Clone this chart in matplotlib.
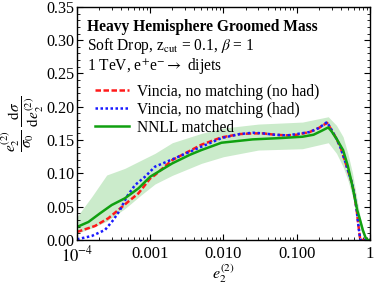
import numpy as np
import matplotlib
matplotlib.use("Agg")
import matplotlib.pyplot as plt
from matplotlib.ticker import MultipleLocator, LogLocator, NullFormatter

plt.rcParams['font.family'] = ['Liberation Serif', 'DejaVu Serif']
plt.rcParams['mathtext.fontset'] = 'stix'

# NNLL matched (central curve)
x_nnll = [1e-4, 1.43e-4, 2.06e-4, 2.98e-4, 4.5e-4, 6.9e-4, 1e-3, 2e-3, 3.5e-3, 5e-3,
          9.4e-3, 0.025, 0.06, 0.12, 0.17, 0.22, 0.27, 0.3, 0.35, 0.43, 0.5, 0.58,
          0.67, 0.73, 0.8, 0.87, 0.92, 1.0]
y_nnll = [0.0195, 0.027, 0.040, 0.0525, 0.0625, 0.0775, 0.095, 0.115, 0.128, 0.135,
          0.146, 0.151, 0.153, 0.155, 0.158, 0.164, 0.169, 0.163, 0.152, 0.135, 0.111, 0.080,
          0.045, 0.031, 0.015, 0.004, 0.0, 0.0]

# NNLL uncertainty band
x_band = [1e-4, 1.59e-4, 2.54e-4, 4.5e-4, 7.6e-4, 1.16e-3, 2e-3, 5e-3, 0.01, 0.03,
          0.12, 0.27, 0.35, 0.43, 0.5, 0.58, 0.67, 0.75, 0.85, 0.95, 1.0]
band_hi = [0.035, 0.065, 0.0975, 0.1075, 0.120, 0.130, 0.146, 0.160, 0.168, 0.174,
           0.177, 0.185, 0.172, 0.155, 0.130, 0.100, 0.060, 0.030, 0.008, 0.0, 0.0]
band_lo = [0.010, 0.018, 0.028, 0.047, 0.068, 0.084, 0.097, 0.115, 0.125, 0.135,
           0.137, 0.146, 0.130, 0.110, 0.090, 0.065, 0.035, 0.015, 0.0, 0.0, 0.0]

# Vincia, no matching (no had)
x_nohad = [1e-4, 1.76e-4, 2.67e-4, 3.66e-4, 5e-4, 6.9e-4, 1e-3, 1.16e-3, 2e-3, 5e-3,
           9.4e-3, 0.0168, 0.025, 0.035, 0.05, 0.074, 0.1, 0.15, 0.2, 0.26, 0.3,
           0.35, 0.4, 0.45, 0.5, 0.57, 0.62, 0.66, 0.7, 0.74, 1.0]
y_nohad = [0.012, 0.021, 0.0325, 0.045, 0.0575, 0.070, 0.0925, 0.0975, 0.120, 0.143,
           0.154, 0.159, 0.160, 0.160, 0.158, 0.157, 0.158, 0.162, 0.168, 0.176, 0.165,
           0.152, 0.138, 0.121, 0.105, 0.085, 0.065, 0.045, 0.020, 0.0, 0.0]

# Vincia, no matching (had)
x_had = [1e-4, 1.59e-4, 2.41e-4, 3.13e-4, 3.87e-4, 4.78e-4, 6.2e-4, 8.5e-4, 1.16e-3, 2e-3,
         5e-3, 9.4e-3, 0.0168, 0.025, 0.035, 0.05, 0.074, 0.1, 0.15, 0.2, 0.26, 0.3,
         0.35, 0.4, 0.45, 0.5, 0.57, 0.62, 0.66, 0.7, 0.74, 1.0]
y_had = [0.001, 0.006, 0.015, 0.030, 0.045, 0.065, 0.0825, 0.095, 0.110, 0.121,
         0.140, 0.153, 0.159, 0.161, 0.160, 0.158, 0.157, 0.159, 0.162, 0.168, 0.177, 0.165,
         0.152, 0.138, 0.121, 0.105, 0.085, 0.065, 0.045, 0.020, 0.0, 0.0]

xticks = [1e-4, 1e-3, 1e-2, 1e-1, 1]
xticklabels = [r'$10^{-4}$', '0.001', '0.010', '0.100', '1']

fig = plt.figure(figsize=(3.74, 2.86), dpi=100)
ax = fig.add_axes([0.206, 0.161, 0.783, 0.815])

ax.fill_between(x_band, band_lo, band_hi, color='#b5e3b5', alpha=0.7, lw=0)
ax.plot(x_nohad, y_nohad, color='#ff1a1a', lw=1.8, dashes=(2.2, 1.0), label='Vincia, no matching (no had)')
ax.plot(x_had, y_had, color='#1a1aff', lw=1.8, dashes=(1.0, 1.0), label='Vincia, no matching (had)')
ax.plot(x_nnll, y_nnll, color='#10a010', lw=1.8, label='NNLL matched')

ax.set_xscale('log')
ax.set_xlim(1e-4, 1)
ax.set_ylim(0, 0.35)
ax.set_xticks(xticks)
ax.set_xticklabels(xticklabels)
ax.xaxis.set_minor_locator(LogLocator(base=10, subs=np.arange(2, 10)))
ax.xaxis.set_minor_formatter(NullFormatter())
ax.yaxis.set_major_locator(MultipleLocator(0.05))
ax.yaxis.set_minor_locator(MultipleLocator(0.01))
ax.yaxis.set_major_formatter(plt.FuncFormatter(lambda v, p: '%.2f' % v))
ax.tick_params(which='both', direction='in', top=True, right=True, labelsize=12)
ax.tick_params(axis='y', labelsize=11.6, pad=2)
ax.tick_params(axis='x', pad=4)
ax.tick_params(which='major', length=4.5, width=0.8)
ax.tick_params(which='minor', length=2.5, width=0.6)
for s in ax.spines.values():
    s.set_linewidth(1.0)

ax.set_xlabel(r'$e_2^{(2)}$', fontsize=11.5)
ax.xaxis.set_label_coords(0.5, -0.095)
ax.set_ylabel(r'$\dfrac{e_2^{(2)}}{\sigma_0}\;\dfrac{\mathrm{d}\sigma}{\mathrm{d}e_2^{(2)}}$',
              fontsize=11, labelpad=0)

ax.text(0.034, 0.915, 'Heavy Hemisphere Groomed Mass', transform=ax.transAxes,
        fontsize=11.2, fontweight='bold', va='center')
ax.text(0.034, 0.83, r'Soft Drop, z$_{\mathrm{cut}}$ = 0.1, $\beta$ = 1', transform=ax.transAxes,
        fontsize=11.2, va='center')
ax.text(0.034, 0.745, r'1 TeV, e$^{+}$e$^{-}$$\rightarrow$ dijets', transform=ax.transAxes,
        fontsize=11.2, va='center')

leg = ax.legend(loc='upper left', bbox_to_anchor=(0.03, 0.71), frameon=False, fontsize=11.2,
                handlelength=2.2, handletextpad=0.5, labelspacing=0.12, borderpad=0.1)

fig.savefig('out.png', dpi=100)
